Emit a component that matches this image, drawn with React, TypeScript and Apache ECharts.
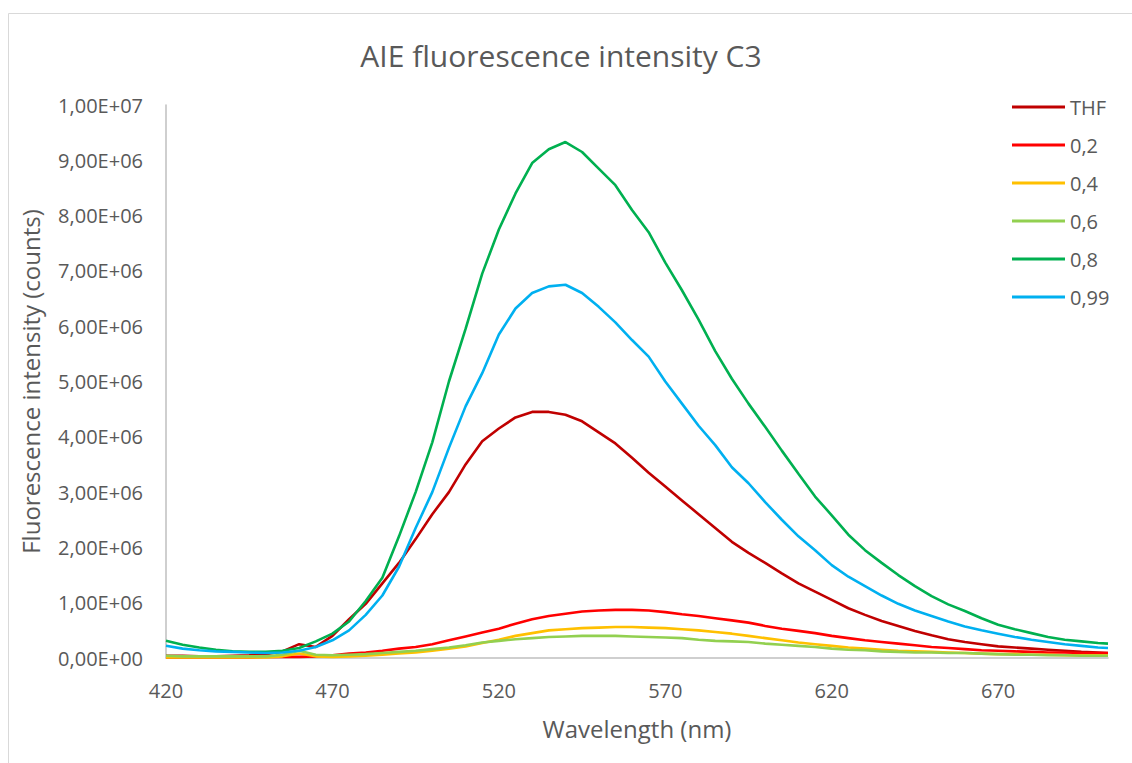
import React, { useEffect, useRef } from "react";
import * as echarts from "echarts";

// Wavelengths (nm)
const wavelengths = [
  420, 425, 430, 435, 440, 445, 450, 455, 460, 465, 470, 475, 480, 485, 490, 495,
  500, 505, 510, 515, 520, 525, 530, 535, 540, 545, 550, 555, 560, 565, 570, 575,
  580, 585, 590, 595, 600, 605, 610, 615, 620, 625, 630, 635, 640, 645, 650, 655,
  660, 665, 670, 675, 680, 685, 690, 695, 700, 703,
];

// Intensities in millions of counts
const thf = [
  0.04, 0.04, 0.03, 0.03, 0.04, 0.05, 0.07, 0.12, 0.25, 0.2, 0.4, 0.7, 0.98, 1.35, 1.72, 2.15,
  2.6, 3.0, 3.5, 3.92, 4.15, 4.35, 4.45, 4.45, 4.4, 4.28, 4.08, 3.88, 3.62, 3.35, 3.1, 2.85,
  2.6, 2.35, 2.1, 1.9, 1.72, 1.53, 1.35, 1.2, 1.05, 0.9, 0.78, 0.67, 0.58, 0.49, 0.41, 0.34,
  0.29, 0.25, 0.21, 0.19, 0.17, 0.15, 0.13, 0.11, 0.1, 0.09,
];
const f02 = [
  0.01, 0.01, 0.01, 0.01, 0.01, 0.01, 0.02, 0.02, 0.02, 0.03, 0.05, 0.08, 0.1, 0.13, 0.17, 0.2,
  0.25, 0.32, 0.39, 0.46, 0.53, 0.62, 0.7, 0.76, 0.8, 0.84, 0.86, 0.87, 0.87, 0.86, 0.83, 0.79,
  0.76, 0.72, 0.68, 0.64, 0.58, 0.53, 0.49, 0.45, 0.4, 0.36, 0.32, 0.29, 0.26, 0.23, 0.2, 0.18,
  0.16, 0.14, 0.13, 0.12, 0.11, 0.1, 0.1, 0.09, 0.09, 0.09,
];
const f04 = [
  0.01, 0.01, 0.01, 0.01, 0.01, 0.01, 0.01, 0.03, 0.08, 0.03, 0.02, 0.03, 0.04, 0.06, 0.08, 0.1,
  0.13, 0.17, 0.21, 0.27, 0.33, 0.4, 0.45, 0.5, 0.52, 0.54, 0.55, 0.56, 0.56, 0.55, 0.54, 0.52,
  0.5, 0.47, 0.44, 0.4, 0.36, 0.32, 0.28, 0.25, 0.22, 0.19, 0.17, 0.15, 0.13, 0.12, 0.11, 0.1,
  0.09, 0.08, 0.07, 0.07, 0.06, 0.06, 0.05, 0.05, 0.05, 0.05,
];
const f06 = [
  0.04, 0.03, 0.03, 0.03, 0.03, 0.03, 0.03, 0.06, 0.13, 0.06, 0.05, 0.06, 0.07, 0.09, 0.11, 0.13,
  0.16, 0.19, 0.23, 0.28, 0.31, 0.34, 0.36, 0.38, 0.39, 0.4, 0.4, 0.4, 0.39, 0.38, 0.37, 0.36,
  0.33, 0.31, 0.3, 0.29, 0.26, 0.24, 0.22, 0.2, 0.17, 0.15, 0.14, 0.12, 0.11, 0.1, 0.1, 0.09,
  0.09, 0.08, 0.07, 0.06, 0.06, 0.05, 0.05, 0.04, 0.04, 0.04,
];
const f08 = [
  0.31, 0.24, 0.19, 0.15, 0.12, 0.11, 0.11, 0.13, 0.18, 0.3, 0.44, 0.66, 1.03, 1.45, 2.2, 3.0,
  3.9, 5.0, 5.95, 6.95, 7.75, 8.4, 8.95, 9.2, 9.33, 9.15, 8.85, 8.55, 8.1, 7.7, 7.15, 6.65,
  6.12, 5.55, 5.05, 4.6, 4.18, 3.75, 3.33, 2.92, 2.58, 2.23, 1.95, 1.72, 1.5, 1.3, 1.12, 0.97,
  0.85, 0.72, 0.6, 0.52, 0.45, 0.38, 0.33, 0.3, 0.27, 0.26,
];
const f099 = [
  0.22, 0.17, 0.14, 0.12, 0.11, 0.1, 0.09, 0.1, 0.13, 0.2, 0.32, 0.5, 0.78, 1.13, 1.65, 2.35,
  3.0, 3.8, 4.55, 5.15, 5.85, 6.32, 6.6, 6.72, 6.75, 6.6, 6.35, 6.07, 5.75, 5.45, 5.0, 4.6,
  4.2, 3.85, 3.45, 3.16, 2.82, 2.5, 2.2, 1.95, 1.68, 1.47, 1.3, 1.13, 0.98, 0.86, 0.76, 0.66,
  0.57, 0.5, 0.44, 0.38, 0.33, 0.29, 0.25, 0.22, 0.19, 0.18,
];

const seriesNames = ["THF", "0,2", "0,4", "0,6", "0,8", "0,99"];
const seriesColors = ["#C00000", "#FF0000", "#FFC000", "#92D050", "#00B050", "#00B0F0"];
const seriesValues = [thf, f02, f04, f06, f08, f099];
const MILLION = 1e6;

const FONT = "'Open Sans', 'Noto Sans', sans-serif";
const TEXT = "#595959";

function fmtSci(v: number): string {
  if (v === 0) return "0,00E+00";
  const s = v.toExponential(2);
  const [m, e] = s.split("e");
  const sign = e[0] === "-" ? "-" : "+";
  const exp = Math.abs(parseInt(e, 10)).toString().padStart(2, "0");
  return m.replace(".", ",") + "E" + sign + exp;
}

export default function App() {
  const ref = useRef<HTMLDivElement>(null);
  useEffect(() => {
    if (!ref.current) return;
    const chart = echarts.init(ref.current, undefined, { renderer: "svg" });
    chart.setOption({
      animation: false,
      backgroundColor: "#ffffff",
      title: {
        text: "AIE fluorescence intensity C3",
        left: 556,
        top: 35,
        textAlign: "center",
        textStyle: { fontFamily: FONT, fontSize: 30, fontWeight: "normal", color: TEXT },
      },
      graphic: [
        {
          type: "rect",
          shape: { x: 8.5, y: 13.5, width: 1300, height: 900 },
          style: { fill: "none", stroke: "#D9D9D9", lineWidth: 1 },
          silent: true,
        },
      ],
      legend: {
        orient: "vertical",
        left: 1007,
        top: 92,
        icon: "rect",
        itemWidth: 53,
        itemHeight: 3,
        itemGap: 18,
        textStyle: {
          fontFamily: FONT,
          fontSize: 20,
          lineHeight: 20,
          height: 20,
          color: TEXT,
        },
        data: seriesNames,
      },
      grid: { left: 166, right: 24, top: 105, bottom: 105, containLabel: false },
      xAxis: {
        type: "value",
        min: 420,
        max: 703,
        interval: 50,
        name: "Wavelength (nm)",
        nameLocation: "middle",
        nameGap: 58,
        nameTextStyle: { fontFamily: FONT, fontSize: 24, color: TEXT },
        axisLine: { show: true, lineStyle: { color: "#BFBFBF", width: 1.5 } },
        axisTick: { show: false },
        splitLine: { show: false },
        axisLabel: {
          fontFamily: FONT,
          fontSize: 20,
          color: TEXT,
          margin: 22,
          showMaxLabel: false,
          formatter: (v: number) => ((v - 420) % 50 === 0 ? String(v) : ""),
        },
      },
      yAxis: {
        type: "value",
        min: 0,
        max: 1e7,
        interval: 1e6,
        name: "Fluorescence intensity (counts)",
        nameLocation: "middle",
        nameGap: 124,
        nameTextStyle: { fontFamily: FONT, fontSize: 24, color: TEXT },
        axisLine: { show: true, lineStyle: { color: "#BFBFBF", width: 1.5 } },
        axisTick: { show: false },
        splitLine: { show: false },
        axisLabel: {
          fontFamily: FONT,
          fontSize: 20,
          color: TEXT,
          margin: 23,
          formatter: (v: number) => fmtSci(v),
        },
      },
      series: seriesNames.map((name, i) => ({
        name,
        type: "line",
        symbol: "none",
        showSymbol: false,
        smooth: false,
        color: seriesColors[i],
        itemStyle: { color: seriesColors[i] },
        lineStyle: { color: seriesColors[i], width: 2.6 },
        data: wavelengths.map((w, j) => [w, seriesValues[i][j] * MILLION]),
      })),
    });
    return () => chart.dispose();
  }, []);
  return (
    <div
      ref={ref}
      style={{ position: "fixed", left: 0, top: 0, width: 1132, height: 763, background: "#fff" }}
    />
  );
}
